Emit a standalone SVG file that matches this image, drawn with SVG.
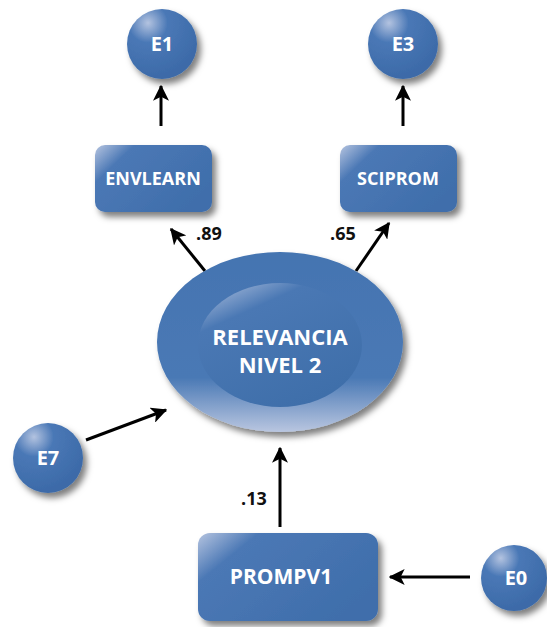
<svg xmlns="http://www.w3.org/2000/svg" width="547" height="627" viewBox="0 0 547 627">
<defs>
<filter id="sh" x="-30%" y="-30%" width="160%" height="160%">
<feDropShadow dx="4" dy="5" stdDeviation="3" flood-color="#000" flood-opacity="0.5"/>
</filter>
<radialGradient id="cg" cx="0.3" cy="0.2" r="0.8">
<stop offset="0" stop-color="#b3c3e0"/>
<stop offset="0.35" stop-color="#4a78b6"/>
<stop offset="1" stop-color="#3c6aa8"/>
</radialGradient>
<linearGradient id="rg" x1="0" y1="0" x2="1" y2="0.6">
<stop offset="0" stop-color="#b5c4e0"/>
<stop offset="0.25" stop-color="#4b78b5"/>
<stop offset="1" stop-color="#3f6eab"/>
</linearGradient>
<linearGradient id="eg" x1="0" y1="0" x2="0" y2="1">
<stop offset="0" stop-color="#4474b1"/>
<stop offset="0.7" stop-color="#4a79b5"/>
<stop offset="1" stop-color="#b9c6e0"/>
</linearGradient>
<linearGradient id="ig" x1="0" y1="0" x2="0.6" y2="1">
<stop offset="0" stop-color="#b9c7e2"/>
<stop offset="0.3" stop-color="#4a78b4"/>
<stop offset="1" stop-color="#3f6faa"/>
</linearGradient>
<style>
.t{font-family:"Open Sans","Liberation Sans",sans-serif;font-weight:bold;fill:#fff;text-anchor:middle}
.l{font-family:"Open Sans","Liberation Sans",sans-serif;font-weight:bold;fill:#111;font-size:18px}
.c{stroke:#000;stroke-width:3;fill:none}
</style>
<marker id="a" viewBox="0 0 12 12" refX="11" refY="6" markerWidth="16" markerHeight="16" orient="auto" markerUnits="userSpaceOnUse">
<path d="M0,0 L12,6 L0,12 L3,6 Z" fill="#000"/>
</marker>
</defs>
<g id="connectors">
<line class="c" x1="161" y1="126" x2="161" y2="86" marker-end="url(#a)"/>
<line class="c" x1="403" y1="126" x2="403" y2="86" marker-end="url(#a)"/>
<line class="c" x1="205" y1="271" x2="171" y2="229" marker-end="url(#a)"/>
<line class="c" x1="356" y1="271" x2="389" y2="223" marker-end="url(#a)"/>
<line class="c" x1="86" y1="440" x2="166" y2="410" marker-end="url(#a)"/>
<line class="c" x1="280" y1="527" x2="280" y2="448" marker-end="url(#a)"/>
<line class="c" x1="470" y1="577" x2="390" y2="577" marker-end="url(#a)"/>
<text class="l" x="196" y="240">.89</text>
<text class="l" x="330" y="240">.65</text>
<text class="l" x="241" y="505">.13</text>
</g>
<g id="E1"><circle cx="162" cy="44" r="35" fill="url(#cg)" filter="url(#sh)"/><text class="t" x="162" y="51" font-size="20">E1</text></g>
<g id="E3"><circle cx="403" cy="44" r="35" fill="url(#cg)" filter="url(#sh)"/><text class="t" x="403" y="51" font-size="20">E3</text></g>
<g id="ENVLEARN"><rect x="95" y="145" width="117" height="67" rx="10" fill="url(#rg)" filter="url(#sh)"/><text class="t" x="153" y="185" font-size="18">ENVLEARN</text></g>
<g id="SCIPROM"><rect x="340" y="145" width="117" height="67" rx="10" fill="url(#rg)" filter="url(#sh)"/><text class="t" x="398" y="185" font-size="18">SCIPROM</text></g>
<g id="RELEVANCIA"><ellipse cx="280" cy="342" rx="123" ry="90" fill="url(#eg)" filter="url(#sh)"/><ellipse cx="280" cy="345" rx="82" ry="62" fill="url(#ig)"/><text class="t" x="280" y="345" font-size="22">RELEVANCIA</text><text class="t" x="280" y="373" font-size="22">NIVEL 2</text></g>
<g id="E7"><circle cx="48" cy="458" r="35" fill="url(#cg)" filter="url(#sh)"/><text class="t" x="48" y="465" font-size="20">E7</text></g>
<g id="PROMPV1"><rect x="198" y="533" width="180" height="88" rx="12" fill="url(#rg)" filter="url(#sh)"/><text class="t" x="281" y="584" font-size="21">PROMPV1</text></g>
<g id="E0"><circle cx="514" cy="578" r="33" fill="url(#cg)" filter="url(#sh)"/><text class="t" x="516" y="585" font-size="20">E0</text></g>
</svg>
